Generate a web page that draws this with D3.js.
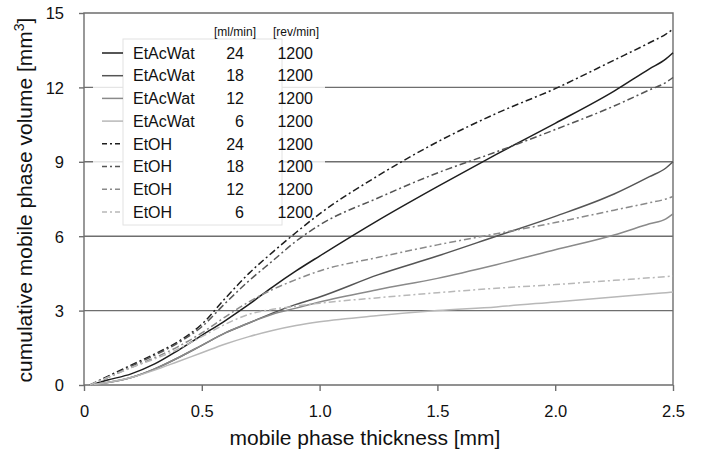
<!DOCTYPE html>
<html><head><meta charset="utf-8">
<script src="https://cdn.jsdelivr.net/npm/d3@7/dist/d3.min.js"></script>
<style>body{margin:0;background:#fff}svg{display:block}text{font-family:Arial,"Liberation Sans",sans-serif;fill:#111}</style>
</head><body><svg id="c" width="702" height="454"></svg>
<script>
const xTicks = [0, 0.5, 1.0, 1.5, 2.0, 2.5];
const yTicks = [0, 3, 6, 9, 12, 15];
const solvents = ["EtAcWat","EtAcWat","EtAcWat","EtAcWat","EtOH","EtOH","EtOH","EtOH"];
const flows = [24, 18, 12, 6, 24, 18, 12, 6];
const revs = [1200,1200,1200,1200,1200,1200,1200,1200];
const colors = ["#1e1e1e","#555","#8a8a8a","#b8b8b8","#1e1e1e","#555","#8a8a8a","#b8b8b8"];
const dashed = [false,false,false,false,true,true,true,true];

const xs = [0.025,0.1,0.2,0.3,0.4,0.5,0.6,0.7,0.8,0.9,1.0,1.25,1.5,1.75,2.0,2.25,2.4,2.47,2.5];
const etac24 = [0,0.2,0.45,0.85,1.4,2.0,2.6,3.25,3.95,4.6,5.2,6.65,8.0,9.3,10.55,11.85,12.75,13.15,13.4];
const etac18 = [0,0.1,0.3,0.65,1.1,1.6,2.1,2.5,2.9,3.25,3.55,4.45,5.2,6.0,6.8,7.7,8.4,8.75,9.0];
const etac12 = [0,0.1,0.3,0.65,1.1,1.6,2.1,2.5,2.85,3.1,3.35,3.85,4.3,4.85,5.45,6.05,6.5,6.7,6.9];
const etac6  = [0,0.1,0.3,0.6,0.95,1.3,1.65,1.95,2.2,2.4,2.55,2.8,3.0,3.15,3.35,3.55,3.67,3.72,3.75];
const etoh24 = [0,0.35,0.8,1.25,1.75,2.45,3.5,4.5,5.35,6.15,6.9,8.45,9.8,10.95,11.95,13.1,13.8,14.15,14.35];
const etoh18 = [0,0.3,0.75,1.2,1.7,2.35,3.3,4.2,5.0,5.8,6.45,7.55,8.55,9.4,10.3,11.25,11.9,12.2,12.4];
const etoh12 = [0,0.3,0.7,1.1,1.55,2.1,2.75,3.35,3.85,4.25,4.6,5.15,5.65,6.1,6.55,7.05,7.35,7.5,7.6];
const etoh6  = [0,0.3,0.7,1.05,1.45,1.95,2.45,2.85,3.05,3.18,3.3,3.52,3.72,3.9,4.05,4.22,4.32,4.37,4.4];
const series = [etac24, etac18, etac12, etac6, etoh24, etoh18, etoh12, etoh6];

const svg = d3.select("#c");
const L = 84, R = 673, T = 13, B = 385;
const x = d3.scaleLinear().domain([0, 2.5]).range([L, R]);
const y = d3.scaleLinear().domain([0, 15]).range([B, T]);
const grid = "#6e6e6e";

// gridlines
svg.append("g").selectAll("line").data(yTicks.filter(v => v > 0 && v < 15)).join("line")
  .attr("x1", L).attr("x2", R).attr("y1", d => y(d)).attr("y2", d => y(d))
  .attr("stroke", grid).attr("stroke-width", 1.4);

// legend backdrop (semi-transparent so gridlines show faintly)
svg.append("rect").attr("x", 93).attr("y", 20).attr("width", 232).attr("height", 210)
  .attr("fill", "#fff").attr("fill-opacity", 0.82);
svg.append("rect").attr("x", 123).attr("y", 39).attr("width", 159).attr("height", 186)
  .attr("fill", "#fff").attr("stroke", "#e2e2e2").attr("stroke-width", 1);

// border
svg.append("path").attr("d", `M${L},${B}V${T}H${R}V${B}H${L}`)
  .attr("fill", "none").attr("stroke", grid).attr("stroke-width", 1.4);

// axes
const xAxis = svg.append("g").attr("transform", `translate(0,${B})`)
  .call(d3.axisBottom(x).tickValues(xTicks).tickSize(6).tickPadding(14)
    .tickFormat(d => d === 0 ? "0" : d3.format(".1f")(d)));
const yAxis = svg.append("g").attr("transform", `translate(${L},0)`)
  .call(d3.axisLeft(y).tickValues(yTicks).tickSize(5).tickPadding(15).tickFormat(d3.format("d")));
[xAxis, yAxis].forEach(a => {
  a.select(".domain").remove();
  a.selectAll(".tick line").attr("stroke", grid).attr("stroke-width", 1.4);
  a.selectAll("text").attr("font-size", 16.5).attr("fill", "#111")
    .style("font-family", 'Arial,"Liberation Sans",sans-serif');
});
yAxis.selectAll("text").attr("dy", "0.36em");

// lines
const line = d3.line().x((d, i) => x(xs[i])).y(d => y(d)).curve(d3.curveMonotoneX);
series.forEach((s, k) => {
  svg.append("path").datum(s).attr("d", line).attr("fill", "none")
    .attr("stroke", colors[k]).attr("stroke-width", 1.5)
    .attr("stroke-dasharray", dashed[k] ? "7,3,2,3" : null);
});

// legend text
svg.append("text").attr("x", 235).attr("y", 36).attr("text-anchor", "middle").attr("font-size", 12).text("[ml/min]");
svg.append("text").attr("x", 296).attr("y", 36).attr("text-anchor", "middle").attr("font-size", 12).text("[rev/min]");
solvents.forEach((name, k) => {
  const cy = 53 + k * 22.7;
  svg.append("line").attr("x1", 102).attr("x2", 123).attr("y1", cy).attr("y2", cy)
    .attr("stroke", colors[k]).attr("stroke-width", 1.5)
    .attr("stroke-dasharray", dashed[k] ? "5,3,2,3" : null);
  svg.append("text").attr("x", 133).attr("y", cy).attr("dy", "0.36em").attr("font-size", 16).text(name);
  svg.append("text").attr("x", 244).attr("y", cy).attr("dy", "0.36em").attr("font-size", 16).attr("text-anchor", "end").text(flows[k]);
  svg.append("text").attr("x", 313).attr("y", cy).attr("dy", "0.36em").attr("font-size", 16).attr("text-anchor", "end").text(revs[k]);
});

// axis titles
svg.append("text").attr("x", 365).attr("y", 445).attr("text-anchor", "middle").attr("font-size", 21)
  .text("mobile phase thickness [mm]");
const yt = svg.append("text").attr("transform", "translate(32,200) rotate(-90)")
  .attr("text-anchor", "middle").attr("font-size", 21);
yt.append("tspan").text("cumulative mobile phase volume [mm");
yt.append("tspan").attr("font-size", 14).attr("dy", -8).text("3");
yt.append("tspan").attr("dy", 8).text("]");
</script></body></html>
